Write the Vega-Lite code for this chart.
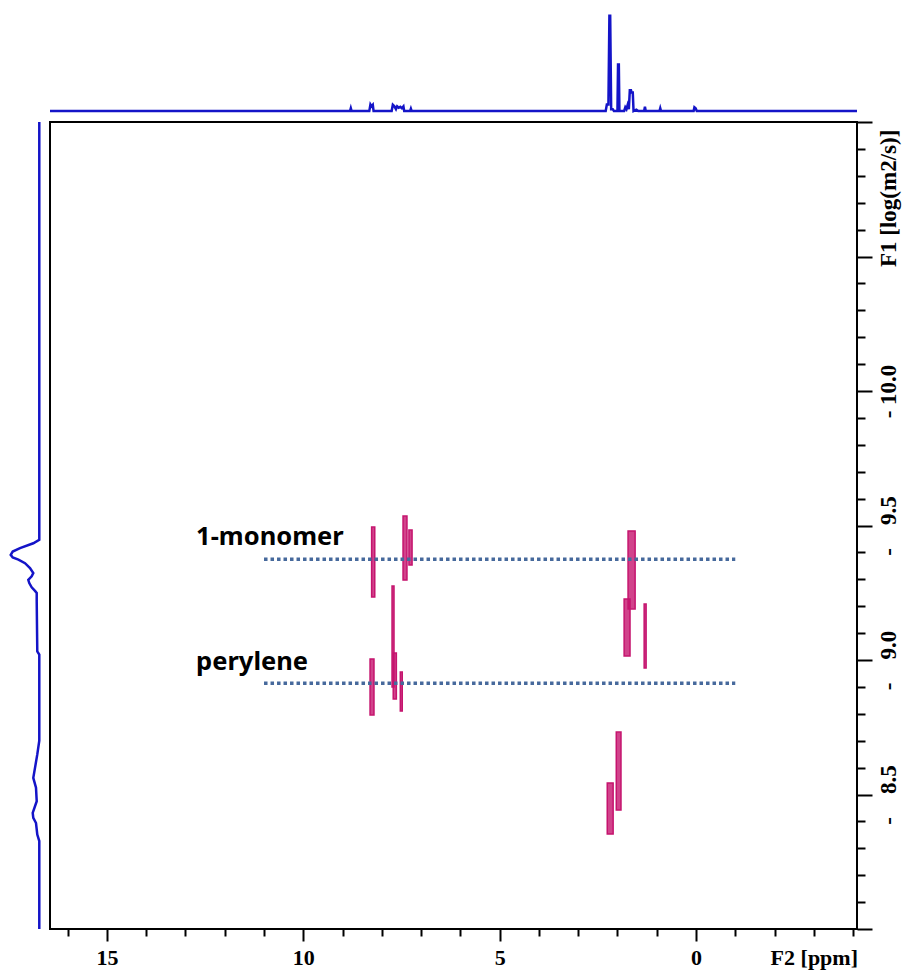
{
  "$schema": "https://vega.github.io/schema/vega-lite/v6.json",
  "padding": {"left": 5, "top": 10, "right": 2, "bottom": 2},
  "background": "white",
  "config": {"view": {"stroke": null}, "concat": {"spacing": 9}},
  "columns": 2,
  "align": "each",
  "bounds": "flush",
  "spacing": 9,
  "concat": [
    {
      "width": 36,
      "height": 101,
      "data": {"values": [{"a": 0}]},
      "mark": {"type": "point", "opacity": 0},
      "encoding": {}
    },
    {
      "width": 807,
      "height": 101,
      "data": {"values": [
        {"ppm": 16.45, "intensity": 0},
        {"ppm": 8.81, "intensity": 0},
        {"ppm": 8.79, "intensity": 0.03},
        {"ppm": 8.77, "intensity": 0},
        {"ppm": 8.32, "intensity": 0},
        {"ppm": 8.29, "intensity": 0.07},
        {"ppm": 8.26, "intensity": 0.05},
        {"ppm": 8.23, "intensity": 0.065},
        {"ppm": 8.21, "intensity": 0},
        {"ppm": 7.75, "intensity": 0},
        {"ppm": 7.72, "intensity": 0.066},
        {"ppm": 7.68, "intensity": 0.05},
        {"ppm": 7.64, "intensity": 0.02},
        {"ppm": 7.61, "intensity": 0.05},
        {"ppm": 7.57, "intensity": 0.035},
        {"ppm": 7.53, "intensity": 0.045},
        {"ppm": 7.49, "intensity": 0.03},
        {"ppm": 7.45, "intensity": 0.05},
        {"ppm": 7.43, "intensity": 0},
        {"ppm": 7.28, "intensity": 0},
        {"ppm": 7.26, "intensity": 0.025},
        {"ppm": 7.24, "intensity": 0},
        {"ppm": 2.30, "intensity": 0},
        {"ppm": 2.27, "intensity": 0.07},
        {"ppm": 2.23, "intensity": 0.07},
        {"ppm": 2.205, "intensity": 1.0},
        {"ppm": 2.185, "intensity": 1.0},
        {"ppm": 2.16, "intensity": 0.02},
        {"ppm": 2.12, "intensity": 0.02},
        {"ppm": 2.09, "intensity": 0},
        {"ppm": 2.00, "intensity": 0},
        {"ppm": 1.985, "intensity": 0.49},
        {"ppm": 1.965, "intensity": 0.49},
        {"ppm": 1.95, "intensity": 0},
        {"ppm": 1.83, "intensity": 0},
        {"ppm": 1.80, "intensity": 0.04},
        {"ppm": 1.77, "intensity": 0.02},
        {"ppm": 1.74, "intensity": 0.065},
        {"ppm": 1.71, "intensity": 0.02},
        {"ppm": 1.685, "intensity": 0.218},
        {"ppm": 1.655, "intensity": 0.218},
        {"ppm": 1.64, "intensity": 0.195},
        {"ppm": 1.61, "intensity": 0.195},
        {"ppm": 1.59, "intensity": 0},
        {"ppm": 1.52, "intensity": 0.015},
        {"ppm": 1.47, "intensity": 0},
        {"ppm": 1.32, "intensity": 0},
        {"ppm": 1.30, "intensity": 0.045},
        {"ppm": 1.28, "intensity": 0},
        {"ppm": 0.93, "intensity": 0},
        {"ppm": 0.91, "intensity": 0.03},
        {"ppm": 0.89, "intensity": 0},
        {"ppm": 0.06, "intensity": 0},
        {"ppm": 0.04, "intensity": 0.04},
        {"ppm": 0.01, "intensity": 0.03},
        {"ppm": -0.02, "intensity": 0},
        {"ppm": -4.1, "intensity": 0}
      ]},
      "mark": {"type": "line", "color": "#1414c8", "strokeWidth": 2.5},
      "encoding": {
        "x": {"field": "ppm", "type": "quantitative", "scale": {"domain": [-4.1, 16.45], "reverse": true, "nice": false, "zero": false}, "axis": null},
        "y": {"field": "intensity", "type": "quantitative", "scale": {"domain": [-0.02, 1.04], "nice": false, "zero": false}, "axis": null}
      }
    },
    {
      "width": 36,
      "height": 807,
      "data": {"values": [
        {"logd": -11.0, "intensity": 0},
        {"logd": -9.447, "intensity": 0},
        {"logd": -9.434, "intensity": 0.21},
        {"logd": -9.416, "intensity": 0.675},
        {"logd": -9.403, "intensity": 0.93},
        {"logd": -9.391, "intensity": 1.0},
        {"logd": -9.381, "intensity": 0.93},
        {"logd": -9.373, "intensity": 0.73},
        {"logd": -9.360, "intensity": 0.5},
        {"logd": -9.342, "intensity": 0.325},
        {"logd": -9.323, "intensity": 0.21},
        {"logd": -9.311, "intensity": 0.266},
        {"logd": -9.298, "intensity": 0.385},
        {"logd": -9.286, "intensity": 0.35},
        {"logd": -9.270, "intensity": 0.266},
        {"logd": -9.257, "intensity": 0.15},
        {"logd": -9.249, "intensity": 0.09},
        {"logd": -9.218, "intensity": 0.09},
        {"logd": -9.032, "intensity": 0.07},
        {"logd": -9.020, "intensity": 0},
        {"logd": -8.700, "intensity": 0},
        {"logd": -8.649, "intensity": 0.07},
        {"logd": -8.599, "intensity": 0.15},
        {"logd": -8.562, "intensity": 0.21},
        {"logd": -8.525, "intensity": 0.115},
        {"logd": -8.475, "intensity": 0.09},
        {"logd": -8.432, "intensity": 0.23},
        {"logd": -8.413, "intensity": 0.21},
        {"logd": -8.394, "intensity": 0.115},
        {"logd": -8.351, "intensity": 0.07},
        {"logd": -8.327, "intensity": 0},
        {"logd": -8.0, "intensity": 0}
      ]},
      "mark": {"type": "line", "color": "#1414c8", "strokeWidth": 2.5},
      "encoding": {
        "x": {"field": "intensity", "type": "quantitative", "scale": {"domain": [-0.06, 1.2], "reverse": true, "nice": false, "zero": false}, "axis": null},
        "y": {"field": "logd", "type": "quantitative", "scale": {"domain": [-11, -8], "reverse": true, "nice": false, "zero": false}, "axis": null},
        "order": {"field": "logd", "type": "quantitative"}
      }
    },
    {
      "width": 807,
      "height": 807,
      "view": {"stroke": "black", "strokeWidth": 2},
      "layer": [
        {
          "data": {"values": [
            {"x": 8.26, "x2": 8.18, "y": -9.494, "y2": -9.234},
            {"x": 7.46, "x2": 7.36, "y": -9.535, "y2": -9.297},
            {"x": 7.31, "x2": 7.23, "y": -9.483, "y2": -9.353},
            {"x": 7.74, "x2": 7.69, "y": -9.275, "y2": -8.900},
            {"x": 7.71, "x2": 7.63, "y": -9.026, "y2": -8.855},
            {"x": 8.30, "x2": 8.20, "y": -9.004, "y2": -8.796},
            {"x": 7.53, "x2": 7.48, "y": -8.955, "y2": -8.810},
            {"x": 1.73, "x2": 1.55, "y": -9.480, "y2": -9.190},
            {"x": 1.83, "x2": 1.68, "y": -9.227, "y2": -9.015},
            {"x": 1.32, "x2": 1.27, "y": -9.208, "y2": -8.970},
            {"x": 2.03, "x2": 1.91, "y": -8.732, "y2": -8.442},
            {"x": 2.26, "x2": 2.11, "y": -8.543, "y2": -8.353}
          ]},
          "mark": {"type": "rect", "fill": "#c5146e", "fillOpacity": 0.8, "stroke": "#c5146e", "strokeWidth": 1.5},
          "encoding": {
            "x": {
              "field": "x", "type": "quantitative",
              "scale": {"domain": [-4.1, 16.45], "reverse": true, "nice": false, "zero": false},
              "axis": {
                "orient": "bottom",
                "values": [16, 15, 14, 13, 12, 11, 10, 9, 8, 7, 6, 5, 4, 3, 2, 1, 0, -1, -2, -3, -4],
                "tickCount": 200,
                "labelExpr": "datum.value === -3 ? 'F2 [ppm]' : (datum.value % 5 === 0 ? format(datum.value, 'd') : '')",
                "tickSize": {"condition": {"test": "datum.value % 5 === 0", "value": 12}, "value": 7},
                "labelPadding": {"condition": {"test": "datum.value === -3", "value": 11}, "value": 6},
                "tickWidth": 2,
                "tickColor": "black",
                "domain": false,
                "grid": false,
                "title": null,
                "labelFont": "Liberation Serif",
                "labelFontWeight": "bold",
                "labelFontSize": 22,
                "labelColor": "black",
                "labelFlush": false,
                "labelOverlap": false,
                "labelBound": false
              }
            },
            "x2": {"field": "x2"},
            "y": {
              "field": "y", "type": "quantitative",
              "scale": {"domain": [-11, -8], "reverse": true, "nice": false, "zero": false},
              "axis": {
                "orient": "right",
                "values": [-11.0, -10.9, -10.8, -10.7, -10.6, -10.5, -10.4, -10.3, -10.2, -10.1, -10.0, -9.9, -9.8, -9.7, -9.6, -9.5, -9.4, -9.3, -9.2, -9.1, -9.0, -8.9, -8.8, -8.7, -8.6, -8.5, -8.4, -8.3, -8.2, -8.1, -8.0],
                "tickCount": 200,
                "labelExpr": "abs(datum.value + 10.5) < 0.01 ? 'F1 [log(m2/s)]' : (abs(datum.value + 10) < 0.01 ? '-\u00a010.0' : ((abs(datum.value * 2 - round(datum.value * 2)) < 0.01 && datum.value > -9.9 && datum.value < -8.1) ? '-\u00a0\u00a0\u00a0\u00a0' + format(abs(datum.value), '.1f') : ''))",
                "tickSize": {"condition": {"test": "abs(datum.value * 2 - round(datum.value * 2)) < 0.01", "value": 15}, "value": 8},
                "labelAlign": {"condition": {"test": "abs(datum.value + 10.5) < 0.01", "value": "left"}, "value": "center"},
                "labelOffset": {"condition": {"test": "abs(datum.value + 10.5) < 0.01", "value": 10}, "value": 0},
                "labelAngle": 270,
                "labelBaseline": "top",
                "labelPadding": 5,
                "tickWidth": 2,
                "tickColor": "black",
                "domain": false,
                "grid": false,
                "title": null,
                "labelFont": "Liberation Serif",
                "labelFontWeight": "bold",
                "labelFontSize": 23,
                "labelColor": "black",
                "labelFlush": false,
                "labelOverlap": false,
                "labelBound": false
              }
            },
            "y2": {"field": "y2"}
          }
        },
        {
          "data": {"values": [
            {"x": 11.0, "x2": -1.0, "y": -9.375},
            {"x": 11.0, "x2": -1.0, "y": -8.914}
          ]},
          "mark": {"type": "rule", "color": "#46699c", "strokeWidth": 3.5, "strokeDash": [3.5, 3]},
          "encoding": {
            "x": {"field": "x", "type": "quantitative", "title": null},
            "x2": {"field": "x2"},
            "y": {"field": "y", "type": "quantitative", "title": null}
          }
        },
        {
          "data": {"values": [
            {"x": 12.73, "y": -9.457, "label": "1-monomer"},
            {"x": 12.73, "y": -8.993, "label": "perylene"}
          ]},
          "mark": {"type": "text", "font": "Noto Sans", "fontWeight": "bold", "fontSize": 25.5, "align": "left", "baseline": "middle", "color": "black"},
          "encoding": {
            "x": {"field": "x", "type": "quantitative", "title": null},
            "y": {"field": "y", "type": "quantitative", "title": null},
            "text": {"field": "label"}
          }
        }
      ]
    }
  ]
}
